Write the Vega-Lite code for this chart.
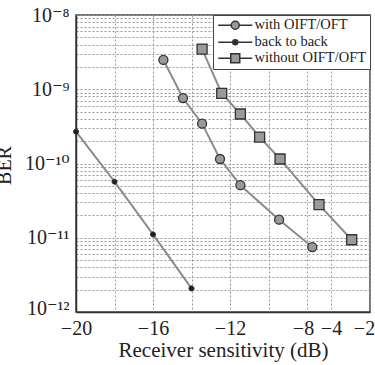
{
  "$schema": "https://vega.github.io/schema/vega-lite/v6.json",
  "width": 294,
  "height": 297,
  "autosize": {"type": "none"},
  "padding": {"left": 76, "top": 15, "right": 5, "bottom": 53},
  "background": "white",
  "config": {
    "font": "Liberation Serif, DejaVu Serif",
    "view": {"stroke": "#444", "strokeWidth": 1.5}
  },
  "data": {
    "values": [
      {"series": "back to back", "sens": -20, "ber": 2.68e-10},
      {"series": "back to back", "sens": -18, "ber": 5.7e-11},
      {"series": "back to back", "sens": -16, "ber": 1.11e-11},
      {"series": "back to back", "sens": -14, "ber": 2.08e-12},
      {"series": "with OIFT/OFT", "sens": -15.46, "ber": 2.48e-9},
      {"series": "with OIFT/OFT", "sens": -14.44, "ber": 7.6e-10},
      {"series": "with OIFT/OFT", "sens": -13.45, "ber": 3.44e-10},
      {"series": "with OIFT/OFT", "sens": -12.52, "ber": 1.15e-10},
      {"series": "with OIFT/OFT", "sens": -11.46, "ber": 5.1e-11},
      {"series": "with OIFT/OFT", "sens": -9.45, "ber": 1.75e-11},
      {"series": "with OIFT/OFT", "sens": -7.12, "ber": 7.5e-12},
      {"series": "without OIFT/OFT", "sens": -13.45, "ber": 3.48e-9},
      {"series": "without OIFT/OFT", "sens": -12.43, "ber": 8.8e-10},
      {"series": "without OIFT/OFT", "sens": -11.46, "ber": 4.64e-10},
      {"series": "without OIFT/OFT", "sens": -10.46, "ber": 2.27e-10},
      {"series": "without OIFT/OFT", "sens": -9.4, "ber": 1.15e-10},
      {"series": "without OIFT/OFT", "sens": -6.0, "ber": 2.79e-11},
      {"series": "without OIFT/OFT", "sens": -2.94, "ber": 9.4e-12}
    ]
  },
  "encoding": {
    "x": {
      "field": "sens",
      "type": "quantitative",
      "scale": {"domain": [-20, -8, -4, -2], "range": [0, 231, 255, 294]},
      "axis": {
        "title": "Receiver sensitivity (dB)",
        "values": [-20, -18, -16, -14, -12, -10, -8, -4, -2],
        "labelExpr": "indexof([-18, -14, -10], datum.value) >= 0 ? '' : datum.label",
        "labelFlush": false,
        "labelOffset": {"expr": "datum.value == -2 ? -6 : datum.value == -8 ? -4 : 0"},
        "labelFontSize": 20,
        "labelColor": "#222",
        "labelPadding": 6,
        "titleFontSize": 21,
        "titleFontWeight": "normal",
        "titleColor": "#222",
        "titlePadding": 1,
        "ticks": false,
        "domainColor": "#333",
        "domainWidth": 1.5,
        "grid": true,
        "gridColor": "#999",
        "gridDash": [2, 2],
        "gridWidth": 1
      }
    },
    "y": {
      "field": "ber",
      "type": "quantitative",
      "scale": {"type": "log", "domain": [1e-12, 1e-8]},
      "axis": {
        "title": "BER",
        "values": [1e-12, 2e-12, 3e-12, 4e-12, 5e-12, 6e-12, 7e-12, 8e-12, 9e-12, 1e-11, 2e-11, 3e-11, 4e-11, 5e-11, 6e-11, 7e-11, 8e-11, 9e-11, 1e-10, 2e-10, 3e-10, 4e-10, 5e-10, 6e-10, 7e-10, 8e-10, 9e-10, 1e-9, 2e-9, 3e-9, 4e-9, 5e-9, 6e-9, 7e-9, 8e-9, 9e-9, 1e-8],
        "labelExpr": "datum.value == 1e-8 ? '10⁻⁸' : datum.value == 1e-9 ? '10⁻⁹' : datum.value == 1e-10 ? '10⁻¹⁰' : datum.value == 1e-11 ? '10⁻¹¹' : datum.value == 1e-12 ? '10⁻¹²' : ''",
        "labelFlush": false,
        "labelFontSize": 20,
        "labelColor": "#222",
        "labelPadding": 7,
        "labelOffset": {"expr": "datum.value == 1e-12 ? -4 : 0"},
        "ticks": false,
        "titleFontSize": 20,
        "titleFontWeight": "normal",
        "titleColor": "#222",
        "titleX": -62,
        "titleY": 150,
        "domainColor": "#333",
        "domainWidth": 1.5,
        "grid": true,
        "gridColor": "#999",
        "gridDash": [2, 2],
        "gridWidth": 1
      }
    }
  },
  "layer": [
    {
      "mark": {"type": "line", "color": "#8c8c8c", "strokeWidth": 2},
      "encoding": {"detail": {"field": "series"}}
    },
    {
      "transform": [{"filter": "datum.series === 'with OIFT/OFT'"}],
      "mark": {"type": "point", "filled": true, "fill": "#9a9a9a", "stroke": "#333", "strokeWidth": 1.3, "opacity": 1, "size": 100, "shape": "M-0.9,0A0.9,0.9,0,1,0,0.9,0A0.9,0.9,0,1,0,-0.9,0Z"}
    },
    {
      "transform": [{"filter": "datum.series === 'back to back'"}],
      "mark": {"type": "point", "filled": true, "fill": "#222", "stroke": "#222", "strokeWidth": 1, "opacity": 1, "size": 100, "shape": "M-0.5,0A0.5,0.5,0,1,0,0.5,0A0.5,0.5,0,1,0,-0.5,0Z"}
    },
    {
      "transform": [{"filter": "datum.series === 'without OIFT/OFT'"}],
      "mark": {"type": "point", "filled": true, "fill": "#9a9a9a", "stroke": "#333", "strokeWidth": 1.3, "opacity": 1, "size": 100, "shape": "M-1,-1H1V1H-1Z"}
    },
    {
      "transform": [{"filter": "false"}],
      "mark": {"type": "point", "filled": true, "stroke": "#333", "strokeWidth": 1.3, "opacity": 1, "size": 100},
      "encoding": {
        "shape": {
          "field": "series",
          "type": "nominal",
          "scale": {
            "domain": ["with OIFT/OFT", "back to back", "without OIFT/OFT"],
            "range": [
              "M-3.4,0H-0.8M0.8,0H3.4M-0.8,0A0.8,0.8,0,1,0,0.8,0A0.8,0.8,0,1,0,-0.8,0Z",
              "M-3.4,0H3.4M-0.5,0A0.5,0.5,0,1,0,0.5,0A0.5,0.5,0,1,0,-0.5,0Z",
              "M-3.4,0H-0.9M0.9,0H3.4M-0.9,-0.9H0.9V0.9H-0.9Z"
            ]
          },
          "legend": {
            "title": null,
            "orient": "top-right",
            "offset": 0,
            "padding": 3,
            "strokeColor": "#444",
            "fillColor": "white",
            "labelFont": "Liberation Serif",
            "labelFontSize": 14.5,
            "labelColor": "#222",
            "symbolSize": 100,
            "symbolOffset": 12,
            "labelOffset": 12,
            "rowPadding": 1
          }
        },
        "fill": {
          "field": "series",
          "type": "nominal",
          "scale": {
            "domain": ["with OIFT/OFT", "back to back", "without OIFT/OFT"],
            "range": ["#9a9a9a", "#222222", "#9a9a9a"]
          },
          "legend": {
            "title": null,
            "orient": "top-right",
            "offset": 0,
            "padding": 3,
            "strokeColor": "#444",
            "fillColor": "white",
            "labelFont": "Liberation Serif",
            "labelFontSize": 14.5,
            "labelColor": "#222",
            "symbolSize": 100,
            "symbolOffset": 12,
            "labelOffset": 12,
            "rowPadding": 1
          }
        }
      }
    }
  ]
}
